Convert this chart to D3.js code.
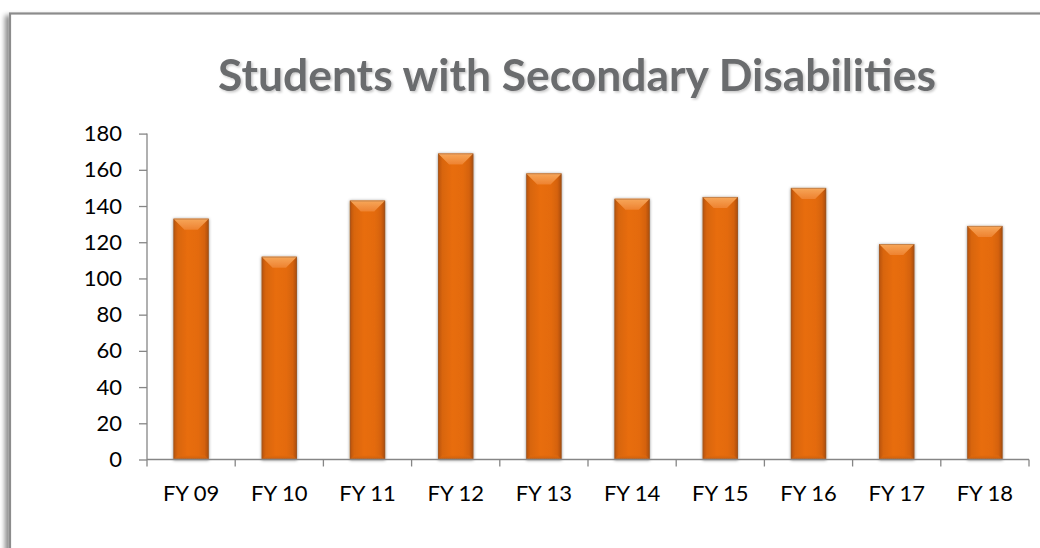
<!DOCTYPE html>
<html>
<head>
<meta charset="utf-8">
<script src="https://cdn.jsdelivr.net/npm/d3@7"></script>
<style>
  html, body { margin: 0; padding: 0; background: #ffffff; }
  svg { display: block; }
</style>
</head>
<body>
<svg id="chart" width="1040" height="548"></svg>
<script>
// Chart data
const categories = ["FY 09", "FY 10", "FY 11", "FY 12", "FY 13", "FY 14", "FY 15", "FY 16", "FY 17", "FY 18"];
const students = [133, 112, 143, 169, 158, 144, 145, 150, 119, 129];
const yTicks = [0, 20, 40, 60, 80, 100, 120, 140, 160, 180];
const titleText = "Students with Secondary Disabilities";

const svg = d3.select("#chart");
const defs = svg.append("defs");

// Soft shadow for the outer frame (falls to the lower left)
const frameShadow = defs.append("filter").attr("id", "frameShadow")
  .attr("x", "-5%").attr("y", "-5%").attr("width", "110%").attr("height", "110%");
frameShadow.append("feDropShadow")
  .attr("dx", -4).attr("dy", 3).attr("stdDeviation", 2.5)
  .attr("flood-color", "#000").attr("flood-opacity", 0.45);

// Subtle shadow around the bars
const barShadow = defs.append("filter").attr("id", "barShadow")
  .attr("x", "-30%").attr("y", "-10%").attr("width", "160%").attr("height", "120%");
barShadow.append("feDropShadow")
  .attr("dx", 0).attr("dy", 0.5).attr("stdDeviation", 1.4)
  .attr("flood-color", "#000").attr("flood-opacity", 0.45);

// Title shadow
const titleShadow = defs.append("filter").attr("id", "titleShadow")
  .attr("x", "-5%").attr("y", "-20%").attr("width", "110%").attr("height", "140%");
titleShadow.append("feDropShadow")
  .attr("dx", 1.5).attr("dy", 1.5).attr("stdDeviation", 1.2)
  .attr("flood-color", "#000").attr("flood-opacity", 0.22);

// Bar body: darker along the sides, brighter in the middle
const bodyGrad = defs.append("linearGradient").attr("id", "barBody")
  .attr("x1", "0").attr("x2", "1").attr("y1", "0").attr("y2", "0");
[["0%", "#b65208"], ["12%", "#d8650a"], ["40%", "#e86d0c"], ["70%", "#e46b0b"], ["88%", "#d5620a"], ["100%", "#a94c08"]]
  .forEach(([o, c]) => bodyGrad.append("stop").attr("offset", o).attr("stop-color", c));

// Lighter top bevel
const bevelGrad = defs.append("linearGradient").attr("id", "barBevel")
  .attr("x1", "0").attr("x2", "0").attr("y1", "0").attr("y2", "1");
[["0%", "#f7a75a"], ["100%", "#ee8230"]]
  .forEach(([o, c]) => bevelGrad.append("stop").attr("offset", o).attr("stop-color", c));

// Bottom bevel, slightly shaded
const baseGrad = defs.append("linearGradient").attr("id", "barBase")
  .attr("x1", "0").attr("x2", "0").attr("y1", "0").attr("y2", "1");
[["0%", "#e06a0c"], ["100%", "#c85c0a"]]
  .forEach(([o, c]) => baseGrad.append("stop").attr("offset", o).attr("stop-color", c));

// Outer frame
svg.append("rect")
  .attr("x", 10).attr("y", 13.5)
  .attr("width", 1100).attr("height", 600)
  .attr("fill", "#ffffff")
  .attr("stroke", "#8c8c8c").attr("stroke-width", 2.2)
  .attr("filter", "url(#frameShadow)");

// Scales
const x = d3.scaleBand()
  .domain(categories)
  .range([147, 1029])
  .paddingInner(0.6)
  .paddingOuter(0.3);

const y = d3.scaleLinear()
  .domain([0, 180])
  .range([459.5, 133.6]);

const axisColor = "#868686";
const labelFont = "Lato, 'Open Sans', sans-serif";

// Title, sized to span its line
const title = svg.append("text")
  .attr("x", 577).attr("y", 91)
  .attr("text-anchor", "middle")
  .attr("font-family", labelFont)
  .attr("font-weight", 700)
  .attr("fill", "#6b6c6e")
  .attr("filter", "url(#titleShadow)")
  .attr("font-size", 40)
  .text(titleText);
const tw = title.node().getComputedTextLength();
title.attr("font-size", 40 * 718 / tw);

// Bars
const bars = svg.append("g").attr("class", "bars")
  .selectAll("g")
  .data(categories.map((c, i) => ({ cat: c, value: students[i] })))
  .join("g")
  .attr("filter", "url(#barShadow)");

const bevel = 11;
bars.append("rect")
  .attr("x", d => x(d.cat))
  .attr("y", d => y(d.value))
  .attr("width", x.bandwidth())
  .attr("height", d => y(0) - y(d.value))
  .attr("fill", "url(#barBody)");

// Top bevel as a trapezoid
bars.append("path")
  .attr("fill", "url(#barBevel)")
  .attr("d", d => {
    const x0 = x(d.cat), x1 = x0 + x.bandwidth(), t = y(d.value);
    return `M${x0},${t} L${x1},${t} L${x1 - bevel},${t + bevel} L${x0 + bevel},${t + bevel} Z`;
  });

// Bottom bevel
bars.append("path")
  .attr("fill", "url(#barBase)")
  .attr("opacity", 0.8)
  .attr("d", d => {
    const x0 = x(d.cat), x1 = x0 + x.bandwidth(), b = y(0);
    return `M${x0 + 4},${b - 4} L${x1 - 4},${b - 4} L${x1},${b} L${x0},${b} Z`;
  });

// Thin outline
bars.append("rect")
  .attr("x", d => x(d.cat) + 0.4)
  .attr("y", d => y(d.value) + 0.4)
  .attr("width", x.bandwidth() - 0.8)
  .attr("height", d => y(0) - y(d.value) - 0.8)
  .attr("fill", "none")
  .attr("stroke", "#8a5a3a")
  .attr("stroke-opacity", 0.55)
  .attr("stroke-width", 0.8);

// Y axis
const yAxis = svg.append("g")
  .attr("transform", "translate(147,0)")
  .call(d3.axisLeft(y).tickValues(yTicks).tickSize(8).tickPadding(17).tickSizeOuter(0));
yAxis.select(".domain").attr("stroke", axisColor).attr("stroke-width", 1.3)
  .attr("d", `M0,${y(180)}V${y(0) + 7}`);
yAxis.selectAll(".tick line").attr("stroke", axisColor).attr("stroke-width", 1.3);
yAxis.selectAll(".tick text")
  .attr("font-family", labelFont).attr("font-size", 22).attr("fill", "#000");

// X axis: labels centred on bars, ticks on category boundaries
const xAxis = svg.append("g")
  .attr("transform", `translate(0,${y(0)})`)
  .call(d3.axisBottom(x).tickSize(0).tickPadding(26).tickSizeOuter(0));
xAxis.select(".domain").attr("stroke", axisColor).attr("stroke-width", 1.3)
  .attr("d", `M147,0H1029`);
xAxis.selectAll(".tick text")
  .attr("font-family", labelFont).attr("font-size", 22).attr("fill", "#000");

const step = x.step();
const boundaries = d3.range(categories.length + 1).map(i => x.range()[0] + i * step);
xAxis.selectAll(".boundary")
  .data(boundaries.slice(1))
  .join("line")
  .attr("class", "boundary")
  .attr("x1", d => d).attr("x2", d => d)
  .attr("y1", 0).attr("y2", 7)
  .attr("stroke", axisColor).attr("stroke-width", 1.3);
</script>
</body>
</html>
